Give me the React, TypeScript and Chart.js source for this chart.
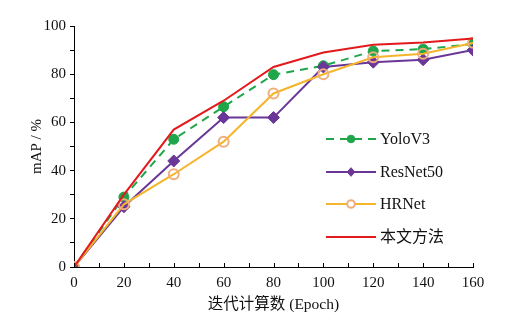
import React, { useEffect, useRef } from "react";
import { Chart, registerables } from "chart.js";

Chart.register(...registerables);

const epochs = [0, 20, 40, 60, 80, 100, 120, 140, 160];
const yoloV3 = [0, 29, 53, 66.5, 79.8, 83.5, 89.6, 90.4, 92.5];
const resNet50 = [0, 25, 44, 62, 62, 83, 85, 86, 90];
const hrNet = [0, 26, 38.5, 52, 72, 80, 87, 88.5, 93];
const ours = [0, 30, 57, 69, 83, 89, 92.2, 93.2, 94.8];
const seriesNames = ["YoloV3", "ResNet50", "HRNet", "本文方法"];
const xTickLabels = ["0", "20", "40", "60", "80", "100", "120", "140", "160"];
const yTickLabels = ["0", "20", "40", "60", "80", "100"];

const FONT = "'Liberation Serif', 'Noto Sans CJK SC', serif";

const xTicksPlugin = {
  id: "xInTicks",
  afterDraw(chart: any) {
    const { ctx, scales } = chart;
    const xs = scales.x;
    const bottom = chart.chartArea.bottom;
    ctx.save();
    ctx.strokeStyle = "#000";
    ctx.lineWidth = 1;
    for (let v = 0; v <= 160; v += 10) {
      const px = Math.round(xs.getPixelForValue(v)) + 0.5;
      ctx.beginPath();
      ctx.moveTo(px, bottom);
      ctx.lineTo(px, bottom - 4);
      ctx.stroke();
    }
    ctx.restore();
  },
};

const legendPlugin = {
  id: "customLegend",
  afterDraw(chart: any) {
    const { ctx, chartArea } = chart;
    const x0 = chartArea.left + 252;
    const x1 = x0 + 50;
    const tx = x1 + 4;
    const ys = [139, 172, 204, 237];
    ctx.save();
    chart.data.datasets.forEach((ds: any, i: number) => {
      const y = ys[i];
      ctx.beginPath();
      ctx.strokeStyle = ds.borderColor;
      ctx.lineWidth = ds.borderWidth;
      ctx.setLineDash(ds.borderDash || []);
      ctx.moveTo(x0, y);
      ctx.lineTo(x1, y);
      ctx.stroke();
      ctx.setLineDash([]);
      const mx = (x0 + x1) / 2;
      if (ds.pointRadius > 0) {
        const r = 3.8;
        ctx.beginPath();
        if (ds.pointStyle === "rectRot") {
          ctx.moveTo(mx, y - r - 0.5);
          ctx.lineTo(mx + r, y);
          ctx.lineTo(mx, y + r + 0.5);
          ctx.lineTo(mx - r, y);
          ctx.closePath();
        } else {
          ctx.arc(mx, y, r, 0, Math.PI * 2);
        }
        if (ds.pointBackgroundColor && ds.pointBackgroundColor !== "rgba(0,0,0,0)") {
          ctx.fillStyle = ds.pointBackgroundColor;
          ctx.fill();
        } else {
          ctx.fillStyle = "#fff";
          ctx.fill();
        }
        ctx.strokeStyle = ds.pointBorderColor;
        ctx.lineWidth = ds.pointBorderWidth;
        ctx.stroke();
      }
      ctx.fillStyle = "#111";
      ctx.font = "16px " + FONT;
      ctx.textAlign = "left";
      ctx.textBaseline = "middle";
      ctx.fillText(ds.label, tx, y + 1);
    });
    ctx.restore();
  },
};

export default function App() {
  const ref = useRef<HTMLCanvasElement>(null);
  useEffect(() => {
    if (!ref.current) return;
    const mk = (arr: number[]) => epochs.map((e, i) => ({ x: e, y: arr[i] }));
    const chart = new Chart(ref.current, {
      type: "line",
      data: {
        datasets: [
          {
            label: seriesNames[0],
            data: mk(yoloV3),
            borderColor: "#1fa64a",
            borderWidth: 2,
            borderDash: [8, 6],
            pointStyle: "circle",
            pointRadius: 5,
            pointBackgroundColor: "#1fa64a",
            pointBorderColor: "#1fa64a",
            pointBorderWidth: 1,
            order: 3,
          },
          {
            label: seriesNames[1],
            data: mk(resNet50),
            borderColor: "#6a3798",
            borderWidth: 2,
            pointStyle: "rectRot",
            pointRadius: 6,
            pointBackgroundColor: "#6a3798",
            pointBorderColor: "#6a3798",
            pointBorderWidth: 1,
            order: 2,
          },
          {
            label: seriesNames[2],
            data: mk(hrNet),
            borderColor: "#f5b52a",
            borderWidth: 2,
            pointStyle: "circle",
            pointRadius: 5,
            pointBackgroundColor: "rgba(0,0,0,0)",
            pointBorderColor: "#f0ad7e",
            pointBorderWidth: 2,
            order: 1,
          },
          {
            label: seriesNames[3],
            data: mk(ours),
            borderColor: "#e31a1c",
            borderWidth: 2,
            pointRadius: 0,
            order: 0,
          },
        ],
      },
      options: {
        animation: false,
        responsive: false,
        maintainAspectRatio: false,
        layout: { padding: { top: 26, right: 56, left: 0, bottom: 0 } },
        plugins: {
          legend: { display: false },
          tooltip: { enabled: false },
        },
        elements: { line: { tension: 0 } },
        scales: {
          x: {
            type: "linear",
            min: 0,
            max: 160,
            afterFit: (s: any) => {
              s.height = 62;
            },
            afterBuildTicks: (s: any) => {
              s.ticks = epochs.map((v) => ({ value: v }));
            },
            ticks: {
              autoSkip: false,
              maxRotation: 0,
              padding: 7,
              color: "#111",
              font: { family: FONT, size: 15 },
              callback: (_v: any, i: number) => xTickLabels[i],
            },
            grid: { display: true, drawOnChartArea: false, drawTicks: false },
            border: { display: true, color: "#000", width: 1 },
            title: {
              display: true,
              text: "迭代计算数 (Epoch)",
              color: "#111",
              font: { family: FONT, size: 15.5 },
              padding: { top: 4, bottom: 15 },
            },
          },
          y: {
            min: 0,
            max: 100,
            afterFit: (s: any) => {
              s.width = 74;
            },
            afterBuildTicks: (s: any) => {
              const t = [];
              for (let v = 0; v <= 100; v += 10) t.push({ value: v });
              s.ticks = t;
            },
            ticks: {
              autoSkip: false,
              padding: 4,
              color: "#111",
              font: { family: FONT, size: 15 },
              callback: (v: any) => (Number(v) % 20 === 0 ? yTickLabels[Number(v) / 20] : ""),
            },
            grid: {
              display: true,
              drawOnChartArea: false,
              drawTicks: true,
              tickLength: 4,
              color: "#000",
            },
            border: { display: true, color: "#000", width: 1 },
            title: {
              display: true,
              text: "mAP / %",
              color: "#111",
              font: { family: FONT, size: 15 },
              padding: { top: 28, bottom: 0 },
            },
          },
        },
      },
      plugins: [xTicksPlugin, legendPlugin],
    });
    return () => chart.destroy();
  }, []);
  return (
    <div style={{ position: "absolute", left: 0, top: 0, width: 529, height: 329, background: "#fff" }}>
      <canvas ref={ref} width={529} height={329} style={{ width: 529, height: 329, display: "block" }} />
    </div>
  );
}
